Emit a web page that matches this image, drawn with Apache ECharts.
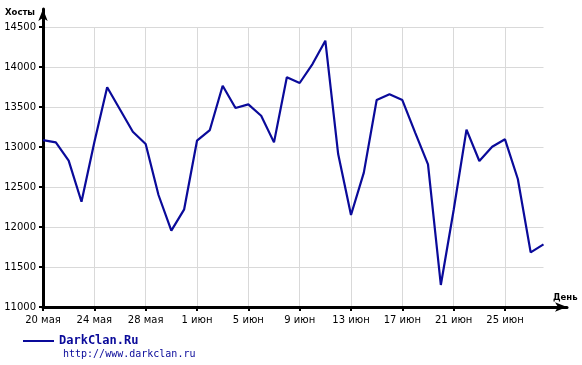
<!DOCTYPE html>
<html><head><meta charset="utf-8">
<script src="https://cdn.jsdelivr.net/npm/echarts@6/dist/echarts.min.js"></script>
<style>html,body{margin:0;padding:0;background:#fff}#c{width:582px;height:365px}</style>
</head><body><div id="c"></div>
<script>
const days = ['20 мая','21 мая','22 мая','23 мая','24 мая','25 мая','26 мая','27 мая','28 мая','29 мая','30 мая','31 мая',
  '1 июн','2 июн','3 июн','4 июн','5 июн','6 июн','7 июн','8 июн','9 июн','10 июн','11 июн','12 июн','13 июн','14 июн',
  '15 июн','16 июн','17 июн','18 июн','19 июн','20 июн','21 июн','22 июн','23 июн','24 июн','25 июн','26 июн','27 июн','28 июн'];
const hosts = [13085,13058,12829,12316,13060,13746,13469,13191,13037,12400,11954,12221,
  13079,13212,13766,13487,13533,13391,13058,13871,13800,14037,14329,12912,12150,12679,
  13587,13658,13587,13180,12783,11275,12212,13218,12825,13004,13096,12600,11683,11783];
const yTicks = {min: 11000, max: 14500, step: 500};
const seriesName = 'DarkClan.Ru';
const siteUrl = 'http://www.darkclan.ru';
const yName = 'Хосты';
const xName = 'День';

const font = 'DejaVu Sans';
const chart = echarts.init(document.getElementById('c'), null, {renderer: 'canvas'});
chart.setOption({
  animation: false,
  backgroundColor: '#fff',
  title: [
    {text: yName, left: 5, top: 8, padding: 0, textStyle: {fontFamily: font, fontSize: 8.5, fontWeight: 'bold', color: '#000'}},
    {text: xName, left: 553, top: 293, padding: 0, textStyle: {fontFamily: font, fontSize: 8.5, fontWeight: 'bold', color: '#000'}},
    {text: siteUrl, left: 63, top: 349, padding: 0, textStyle: {fontFamily: 'DejaVu Sans Mono', fontSize: 10, fontWeight: 'normal', color: '#0a0a9a'}}
  ],
  legend: {
    left: 23, top: 335, padding: 0, itemWidth: 31, itemHeight: 14, itemGap: 9,
    icon: 'path://M0,6 L31,6 L31,8 L0,8 Z',
    data: [seriesName],
    textStyle: {fontFamily: 'DejaVu Sans Mono', fontSize: 12, fontWeight: 'bold', color: '#0a0a9a'}
  },
  grid: [
    {left: 43, right: 38.5, top: 27, bottom: 58, containLabel: false},
    {left: 43, right: 15, top: 9, bottom: 58, containLabel: false}
  ],
  xAxis: [
    {
      type: 'category', gridIndex: 0, data: days, boundaryGap: false,
      axisLine: {show: false},
      axisTick: {show: true, interval: 3, length: 4, lineStyle: {color: '#000', width: 2}},
      axisLabel: {interval: 3, margin: 8, fontFamily: font, fontSize: 10, color: '#000'},
      splitLine: {show: true, interval: 3, lineStyle: {color: '#d9d9d9', width: 1}}
    },
    {
      type: 'value', gridIndex: 1, min: 0, max: 1,
      axisLine: {show: true, symbol: ['none', 'arrow'], symbolSize: [7, 12], lineStyle: {color: '#000', width: 3}},
      axisTick: {show: false}, axisLabel: {show: false}, splitLine: {show: false}
    }
  ],
  yAxis: [
    {
      type: 'value', gridIndex: 0, min: yTicks.min, max: yTicks.max, interval: yTicks.step,
      axisLine: {show: false},
      axisTick: {show: true, length: 4, lineStyle: {color: '#000', width: 2}},
      axisLabel: {margin: 7, fontFamily: font, fontSize: 10, color: '#000', formatter: v => String(v)},
      splitLine: {show: true, lineStyle: {color: '#d9d9d9', width: 1}}
    },
    {
      type: 'value', gridIndex: 1, min: 0, max: 1,
      axisLine: {show: true, symbol: ['none', 'arrow'], symbolSize: [7, 12], lineStyle: {color: '#000', width: 3}},
      axisTick: {show: false}, axisLabel: {show: false}, splitLine: {show: false}
    }
  ],
  series: [{
    name: seriesName, type: 'line', xAxisIndex: 0, yAxisIndex: 0,
    data: hosts, showSymbol: false, symbol: 'none', smooth: false,
    lineStyle: {color: '#0a0a9a', width: 2.2}, itemStyle: {color: '#0a0a9a'}
  }]
});
</script></body></html>
